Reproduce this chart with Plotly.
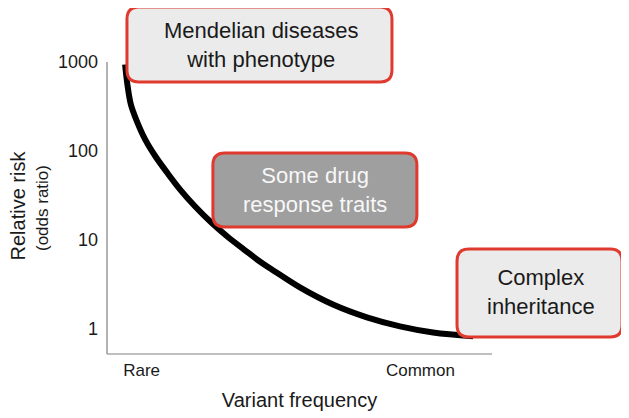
import plotly.graph_objects as go

# curve (relative position along the frequency axis, odds ratio)
freq = [0.047, 0.053, 0.062, 0.078, 0.099, 0.126, 0.156, 0.190, 0.229, 0.271,
        0.314, 0.356, 0.397, 0.436, 0.501, 0.587, 0.675, 0.761, 0.847, 0.951]
risk = [937, 558, 333, 214, 135, 86.7, 57.3, 36.9, 23.8, 15.7,
        10.8, 7.82, 5.73, 4.43, 2.93, 1.88, 1.35, 1.07, 0.914, 0.830]

y_ticks = [1, 10, 100, 1000]
x_tick_pos = [0.09, 0.814]
x_tick_text = ["Rare", "Common"]

box_texts = ["Mendelian diseases<br>with phenotype",
             "Some drug<br>response traits",
             "Complex<br>inheritance"]

FONT = "Liberation Sans, Arial, Helvetica, sans-serif"
RED = "#e0392e"


def rounded_box(cx, cy, hw, hh, r, fill):
    path = (f"M {-hw + r},{-hh} L {hw - r},{-hh} Q {hw},{-hh} {hw},{-hh + r} "
            f"L {hw},{hh - r} Q {hw},{hh} {hw - r},{hh} "
            f"L {-hw + r},{hh} Q {-hw},{hh} {-hw},{hh - r} "
            f"L {-hw},{-hh + r} Q {-hw},{-hh} {-hw + r},{-hh} Z")
    return dict(type="path", xref="paper", yref="paper",
                xsizemode="pixel", ysizemode="pixel",
                xanchor=cx, yanchor=cy, path=path,
                fillcolor=fill, line=dict(color=RED, width=3), layer="above")


def label(text, x, y, size, color, angle=0):
    return dict(text=text, xref="paper", yref="paper", x=x, y=y,
                xanchor="center", yanchor="middle", textangle=angle,
                showarrow=False, font=dict(size=size, color=color))


fig = go.Figure()
fig.add_trace(go.Scatter(
    x=freq, y=risk, mode="lines",
    line=dict(color="black", width=6, shape="spline", smoothing=1.0),
    hoverinfo="skip", showlegend=False,
))

fig.update_layout(
    width=621, height=410,
    margin=dict(l=99, r=137, t=47, b=64),
    paper_bgcolor="white", plot_bgcolor="white",
    font=dict(family=FONT, color="#1a1a1a"),
    xaxis=dict(range=[0, 1], showgrid=False, zeroline=False, showline=False,
               tickvals=x_tick_pos, ticktext=x_tick_text, ticks="",
               tickfont=dict(size=17), ticklabelstandoff=4,
               title=dict(text="Variant frequency", font=dict(size=20), standoff=13)),
    yaxis=dict(type="log", range=[-0.281, 3.079], showgrid=False, zeroline=False,
               showline=False, tickvals=y_ticks, ticktext=[str(v) for v in y_ticks],
               ticks="", tickfont=dict(size=18), ticklabelstandoff=8),
    shapes=[
        dict(type="line", xref="paper", yref="paper", x0=0, x1=0, y0=0, y1=0.9766,
             line=dict(color="#808080", width=1.2), layer="below"),
        dict(type="line", xref="paper", yref="paper", x0=0, x1=1, y0=0, y1=0,
             line=dict(color="#808080", width=1.2), layer="below"),
        rounded_box(0.396, 1.035, 132.5, 37.5, 12, "#ebebeb"),
        rounded_box(0.540, 0.5485, 102, 37, 12, "#9f9f9f"),
        rounded_box(1.1234, 0.204, 82.5, 44, 12, "#ebebeb"),
    ],
    annotations=[
        label(box_texts[0], 0.4, 1.032, 22, "#1a1a1a"),
        label(box_texts[1], 0.541, 0.548, 22, "#f7f7f7"),
        label(box_texts[2], 1.127, 0.207, 22, "#1a1a1a"),
        label("Relative risk", (17.5 - 107) / 385, (354 - 206) / 299, 20, "#1a1a1a", -90),
        label("(odds ratio)", (42 - 107) / 385, (354 - 208) / 299, 17, "#1a1a1a", -90),
    ],
)

fig.write_html("out.html")
